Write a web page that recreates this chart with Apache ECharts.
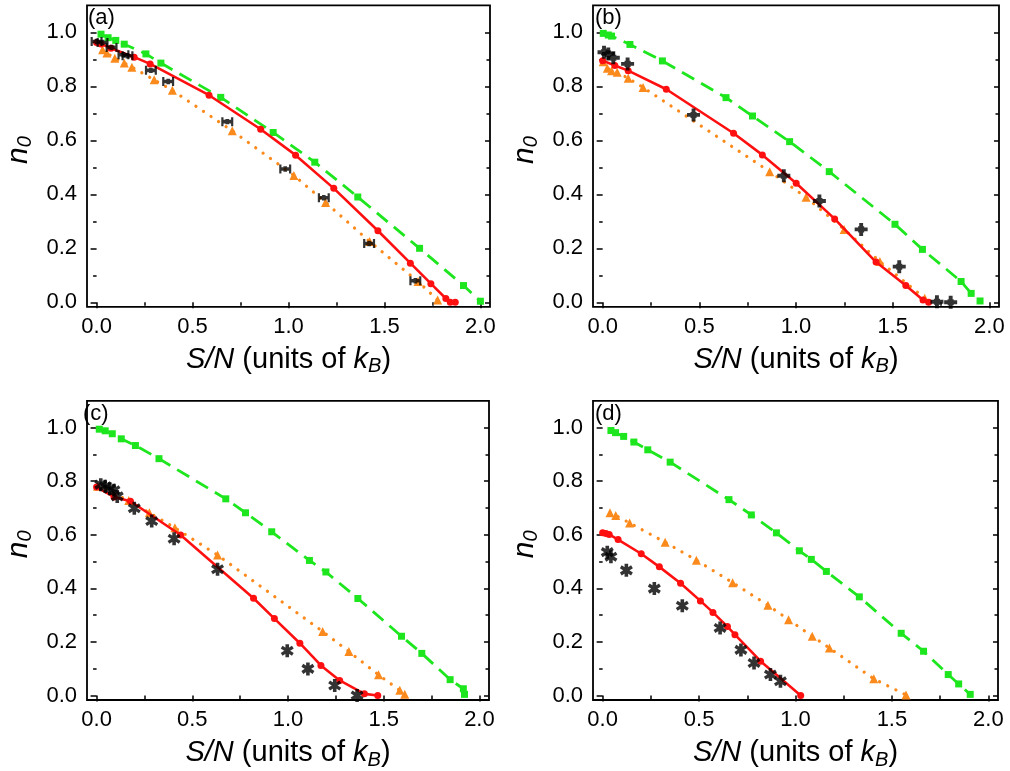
<!DOCTYPE html>
<html>
<head>
<meta charset="utf-8">
<script src="https://cdn.jsdelivr.net/npm/echarts@6/dist/echarts.min.js"></script>
<style>
  html, body { margin: 0; padding: 0; background: #fff; }
  #chart { width: 1010px; height: 771px; }
</style>
</head>
<body>
<div id="chart"></div>
<script>
// ---- data: [S/N, n0] pairs for each panel ----
const greenA = [[0.023,0.993],[0.06,0.98],[0.1,0.97],[0.144,0.956],[0.257,0.92],[0.335,0.886],[0.647,0.759],[0.92,0.629],[1.137,0.519],[1.361,0.39],[1.683,0.2],[1.912,0.062],[2.0,0.004]];
const orangeA = [[0.031,0.935],[0.054,0.923],[0.095,0.904],[0.144,0.886],[0.184,0.871],[0.3,0.824],[0.395,0.785],[0.707,0.635],[1.028,0.47],[1.193,0.37],[1.423,0.225],[1.675,0.077],[1.777,0.009]];
const redA = [[0.0,0.962],[0.023,0.957],[0.075,0.941],[0.196,0.908],[0.279,0.883],[0.586,0.767],[0.855,0.641],[1.037,0.545],[1.236,0.422],[1.466,0.265],[1.635,0.145],[1.742,0.069],[1.82,0.014],[1.843,0.0],[1.869,0.0]];
const blackA = [[0.0,0.966],[0.031,0.962],[0.078,0.944],[0.14,0.917],[0.161,0.913],[0.283,0.859],[0.373,0.818],[0.681,0.669],[0.983,0.494],[1.184,0.387],[1.42,0.218],[1.661,0.08]];

const greenB = [[0.003,0.996],[0.029,0.99],[0.046,0.986],[0.141,0.955],[0.309,0.894],[0.638,0.758],[0.775,0.69],[0.967,0.595],[1.172,0.484],[1.512,0.289],[1.654,0.196],[1.854,0.077],[1.906,0.033],[1.952,0.005]];
const orangeB = [[0.003,0.891],[0.024,0.867],[0.046,0.858],[0.075,0.852],[0.132,0.83],[0.209,0.796],[0.864,0.484],[1.052,0.389],[1.249,0.27],[1.434,0.151],[1.666,0.015]];
const redB = [[0.0,0.895],[0.063,0.877],[0.132,0.858],[0.329,0.789],[0.677,0.626],[0.826,0.546],[1.001,0.441],[1.2,0.309],[1.414,0.149],[1.568,0.062],[1.657,0.009],[1.686,0.0]];
const blackB = [[0.007,0.926],[0.029,0.92],[0.055,0.906],[0.129,0.883],[0.47,0.694],[0.937,0.469],[1.121,0.375],[1.337,0.27],[1.534,0.132],[1.729,0.002],[1.8,0.0]];

const greenC = [[0.014,0.994],[0.045,0.988],[0.082,0.977],[0.129,0.958],[0.203,0.933],[0.326,0.884],[0.675,0.734],[0.778,0.682],[0.915,0.611],[1.112,0.504],[1.198,0.461],[1.365,0.362],[1.593,0.221],[1.699,0.157],[1.847,0.059],[1.916,0.025],[1.922,0.004]];
const orangeC = [[0.005,0.781],[0.168,0.728],[0.276,0.682],[0.409,0.626],[0.632,0.524],[1.181,0.239],[1.318,0.164],[1.473,0.077],[1.584,0.019],[1.61,0.004]];
const redC = [[0.0,0.778],[0.091,0.741],[0.177,0.725],[0.439,0.599],[0.82,0.363],[0.929,0.287],[1.062,0.195],[1.172,0.112],[1.27,0.056],[1.399,0.006],[1.469,0.0]];
const blackC = [[0.022,0.787],[0.045,0.781],[0.069,0.772],[0.091,0.766],[0.108,0.743],[0.197,0.699],[0.288,0.651],[0.405,0.585],[0.632,0.471],[0.996,0.167],[1.104,0.099],[1.244,0.037],[1.361,0.0]];

const greenD = [[0.043,0.989],[0.067,0.981],[0.109,0.967],[0.162,0.946],[0.234,0.917],[0.35,0.871],[0.655,0.731],[0.771,0.674],[0.901,0.607],[1.02,0.54],[1.082,0.508],[1.16,0.463],[1.331,0.368],[1.548,0.232],[1.664,0.165],[1.792,0.078],[1.846,0.043],[1.906,0.004]];
const orangeD = [[0.038,0.682],[0.068,0.672],[0.14,0.644],[0.324,0.572],[0.486,0.505],[0.674,0.421],[0.857,0.337],[0.964,0.283],[1.087,0.221],[1.176,0.177],[1.406,0.062],[1.573,0.002]];
const redD = [[0.0,0.607],[0.017,0.605],[0.034,0.601],[0.08,0.582],[0.2,0.529],[0.294,0.48],[0.404,0.419],[0.507,0.353],[0.572,0.31],[0.647,0.257],[0.686,0.227],[0.819,0.128],[1.027,0.0]];
const blackD = [[0.024,0.535],[0.043,0.518],[0.123,0.467],[0.268,0.399],[0.413,0.335],[0.609,0.252],[0.717,0.17],[0.785,0.121],[0.87,0.078],[0.922,0.053]];

const panelLabels = ['(a)', '(b)', '(c)', '(d)'];
const xMajorTicks = [0, 0.5, 1.0, 1.5, 2.0];
const xMinorTicks = [0.25, 0.75, 1.25, 1.75];
const yMajorTicks = [0, 0.2, 0.4, 0.6, 0.8, 1.0];
const yMinorTicks = [0.1, 0.3, 0.5, 0.7, 0.9];

// ---- styling ----
const FONT = '"Liberation Sans", Arial, sans-serif';
const GREEN = '#1ee61e', ORANGE = '#fb8a1c', RED = '#ff1010', BLACK = '#000';
const X_MIN = -0.05, X_MAX = 2.05, Y_MIN = -0.017, Y_MAX = 1.1;

const grids = [
  { left: 86,  top: 5.3,   width: 404, height: 301.6 },
  { left: 593, top: 5.3,   width: 406, height: 301.6 },
  { left: 81,  top: 400.8, width: 408, height: 300.8 },
  { left: 593, top: 400.8, width: 405, height: 300.8 }
];

const panels = [
  { green: greenA, orange: orangeA, red: redA, black: blackA, mark: 'hbar' },
  { green: greenB, orange: orangeB, red: redB, black: blackB, mark: 'plus' },
  { green: greenC, orange: orangeC, red: redC, black: blackC, mark: 'star' },
  { green: greenD, orange: orangeD, red: redD, black: blackD, mark: 'star' }
];

// marker shapes for the measured points (point with error bars)
const SYMBOLS = {
  hbar: 'path://M0,0 h2.2 v3 h2 v-1 h3.6 v1 h2 v-3 h2.2 v10 h-2.2 v-3 h-2 v1 h-3.6 v-1 h-2 v3 h-2.2 Z',
  plus: 'path://M4.2,0 h3.6 v3.2 h1 v1 h3.2 v3.6 h-3.2 v1 h-1 v3.2 h-3.6 v-3.2 h-1 v-1 h-3.2 v-3.6 h3.2 v-1 h1 Z',
  star: 'path://M4.6,0.6 L7.4,0.6 L7.4,11.4 L4.6,11.4 Z M0.95,4.2 L2.35,1.8 L11.05,7.8 L9.65,10.2 Z M9.65,1.8 L11.05,4.2 L2.35,10.2 L0.95,7.8 Z'
};

const tickLine = { color: '#000', width: 1.5 };
const TICK_FONT = 22;

const xAxes = [], yAxes = [], series = [], graphics = [];

grids.forEach((g, gi) => {
  // bottom axis: major ticks with labels, then minor ticks
  xAxes.push({
    type: 'value', gridIndex: gi, min: X_MIN, max: X_MAX, position: 'bottom',
    axisLine: { show: false }, splitLine: { show: false },
    axisTick: { show: true, inside: false, length: 6, lineStyle: tickLine, customValues: xMajorTicks },
    axisLabel: { customValues: xMajorTicks, formatter: v => v.toFixed(1), fontSize: TICK_FONT, color: '#000', fontFamily: FONT, margin: 9 },
    name: '{it|S/N}{rm| (units of }{it|k}{sub|B}{rm|)}',
    nameLocation: 'middle', nameGap: 36,
    nameTextStyle: {
      color: '#000', fontFamily: FONT, fontSize: 29,
      rich: {
        it: { fontStyle: 'italic', fontSize: 29, fontFamily: FONT, color: '#000', lineHeight: 34 },
        rm: { fontSize: 29, fontFamily: FONT, color: '#000', lineHeight: 34 },
        sub: { fontStyle: 'italic', fontSize: 20, fontFamily: FONT, color: '#000', lineHeight: 34, verticalAlign: 'bottom', padding: [15, 0, 0, 0] }
      }
    }
  });
  xAxes.push({
    type: 'value', gridIndex: gi, min: X_MIN, max: X_MAX, position: 'bottom',
    axisLine: { show: false }, splitLine: { show: false },
    axisTick: { show: true, inside: false, length: 3.5, lineStyle: tickLine, customValues: xMinorTicks },
    axisLabel: { show: false }
  });

  // left axis: major ticks with labels, minor ticks; right axis: inward mirror ticks
  yAxes.push({
    type: 'value', gridIndex: gi, min: Y_MIN, max: Y_MAX, position: 'left',
    axisLine: { show: false }, splitLine: { show: false },
    axisTick: { show: true, inside: false, length: 6, lineStyle: tickLine, customValues: yMajorTicks },
    axisLabel: { customValues: yMajorTicks, formatter: v => v.toFixed(1), fontSize: TICK_FONT, color: '#000', fontFamily: FONT, margin: 10 },
    name: '{it|n}{sub|0}',
    nameLocation: 'middle', nameGap: 52, nameRotate: 90,
    nameTextStyle: {
      color: '#000', fontFamily: FONT, fontSize: 30,
      padding: [0, 0, 0, 12],
      rich: {
        it: { fontStyle: 'italic', fontSize: 30, fontFamily: FONT, color: '#000', lineHeight: 32 },
        sub: { fontStyle: 'italic', fontSize: 20, fontFamily: FONT, color: '#000', lineHeight: 32, verticalAlign: 'bottom', padding: [14, 0, 0, 0] }
      }
    }
  });
  yAxes.push({
    type: 'value', gridIndex: gi, min: Y_MIN, max: Y_MAX, position: 'left',
    axisLine: { show: false }, splitLine: { show: false },
    axisTick: { show: true, inside: false, length: 3.5, lineStyle: tickLine, customValues: yMinorTicks },
    axisLabel: { show: false }
  });
  yAxes.push({
    type: 'value', gridIndex: gi, min: Y_MIN, max: Y_MAX, position: 'right',
    axisLine: { show: false }, splitLine: { show: false },
    axisTick: { show: true, inside: true, length: 5, lineStyle: tickLine, customValues: yMajorTicks },
    axisLabel: { show: false }
  });
  yAxes.push({
    type: 'value', gridIndex: gi, min: Y_MIN, max: Y_MAX, position: 'right',
    axisLine: { show: false }, splitLine: { show: false },
    axisTick: { show: true, inside: true, length: 3.5, lineStyle: tickLine, customValues: yMinorTicks },
    axisLabel: { show: false }
  });

  const p = panels[gi];
  const xi = gi * 2, yi = gi * 4;
  series.push({
    type: 'line', xAxisIndex: xi, yAxisIndex: yi, data: p.green, z: 3,
    symbol: 'rect', symbolSize: 7, showSymbol: true,
    lineStyle: { color: GREEN, width: 2.8, type: [14, 8] },
    itemStyle: { color: GREEN, borderWidth: 0 }
  });
  series.push({
    type: 'line', xAxisIndex: xi, yAxisIndex: yi, data: p.orange, z: 4,
    symbol: 'triangle', symbolSize: 9, showSymbol: true,
    lineStyle: { color: ORANGE, width: 3.2, type: [0.1, 9], cap: 'round' },
    itemStyle: { color: ORANGE, borderWidth: 0 }
  });
  series.push({
    type: 'line', xAxisIndex: xi, yAxisIndex: yi, data: p.red, z: 5,
    symbol: 'circle', symbolSize: 7, showSymbol: true,
    lineStyle: { color: RED, width: 2.6 },
    itemStyle: { color: RED, borderWidth: 0 }
  });
  series.push({
    type: 'scatter', xAxisIndex: xi, yAxisIndex: yi, data: p.black, z: 6,
    symbol: SYMBOLS[p.mark], symbolSize: p.mark === 'hbar' ? [12, 9] : 13,
    itemStyle: { color: BLACK }
  });

  graphics.push({
    type: 'text', left: g.left + 2, top: g.top + 2, z: 10,
    style: { text: panelLabels[gi], font: '22px ' + FONT, fill: '#000' }
  });
});

const chart = echarts.init(document.getElementById('chart'), null, { renderer: 'canvas' });
chart.setOption({
  animation: false,
  backgroundColor: '#fff',
  grid: grids.map(g => Object.assign({ show: true, borderColor: '#000', borderWidth: 1.8, backgroundColor: 'transparent' }, g)),
  xAxis: xAxes,
  yAxis: yAxes,
  series: series,
  graphic: graphics
});
</script>
</body>
</html>
